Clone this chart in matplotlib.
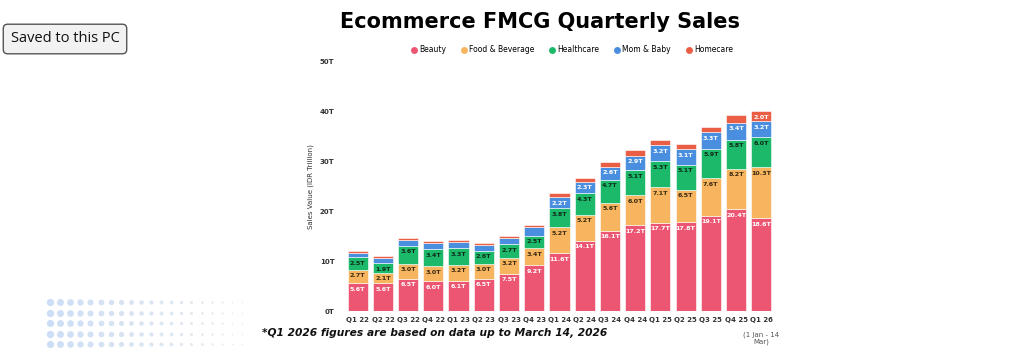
import matplotlib
matplotlib.use('Agg')
import matplotlib.pyplot as plt
from matplotlib.lines import Line2D
import numpy as np

quarters = ['Q1 22', 'Q2 22', 'Q3 22', 'Q4 22', 'Q1 23', 'Q2 23', 'Q3 23', 'Q4 23',
            'Q1 24', 'Q2 24', 'Q3 24', 'Q4 24', 'Q1 25', 'Q2 25', 'Q3 25', 'Q4 25', 'Q1 26']
beauty = [5.6, 5.6, 6.5, 6.0, 6.1, 6.5, 7.5, 9.2, 11.6, 14.1, 16.1, 17.2, 17.7, 17.8, 19.1, 20.4, 18.6]
food = [2.7, 2.1, 3.0, 3.0, 3.2, 3.0, 3.2, 3.4, 5.2, 5.2, 5.6, 6.0, 7.1, 6.5, 7.6, 8.2, 10.3]
health = [2.5, 1.9, 3.6, 3.4, 3.3, 2.6, 2.7, 2.5, 3.8, 4.3, 4.7, 5.1, 5.3, 5.1, 5.9, 5.8, 6.0]
mom = [0.8, 1.0, 1.1, 1.2, 1.2, 1.1, 1.2, 1.7, 2.2, 2.3, 2.6, 2.9, 3.2, 3.1, 3.3, 3.4, 3.2]
home = [0.4, 0.4, 0.4, 0.4, 0.4, 0.4, 0.4, 0.5, 0.9, 0.8, 0.9, 1.1, 1.0, 1.0, 1.0, 1.5, 2.0]

series = [('Beauty', beauty, '#EC5672', 'white'),
          ('Food & Beverage', food, '#F7B560', '#3a2a10'),
          ('Healthcare', health, '#1DB96B', '#0d2a18'),
          ('Mom & Baby', mom, '#4A8FDF', 'white'),
          ('Homecare', home, '#EA5E45', 'white')]

fig = plt.figure(figsize=(10.24, 3.51), dpi=100)

# background decoration (dots bottom-left)
bg = fig.add_axes([0, 0, 1, 1])
bg.set_xlim(0, 1024)
bg.set_ylim(351, 0)
bg.axis('off')
for c in range(20):
    for r in range(5):
        f = c / 19
        col = (0.80 + 0.12 * f, 0.87 + 0.06 * f, 0.96 - 0.02 * f)
        bg.scatter(50 + c * 10.1, 302 + r * 10.5, s=(7 - 5.5 * f) ** 2 * 0.55,
                   color=col, marker='o', linewidths=0)

ax = fig.add_axes([340 / 1024, 1 - 311 / 351, 444 / 1024, 249 / 351])
x = np.arange(len(quarters))
bottom = np.zeros(len(quarters))
for name, vals, color, tcol in series:
    vals = np.array(vals)
    ax.bar(x, vals, 0.8, bottom=bottom, color=color, label=name,
           edgecolor='white', linewidth=0.4)
    for i, v in enumerate(vals):
        if v >= 1.85:
            ax.annotate(f'{v:.1f}T', (x[i], bottom[i] + v), xytext=(0, -2.5),
                        textcoords='offset points', ha='center', va='top',
                        fontsize=4.6, fontweight='bold', color=tcol)
    bottom += vals

ax.set_xlim(-0.7, 16.9)
ax.set_ylim(0, 50)
ax.set_yticks([0, 10, 20, 30, 40, 50])
ax.set_yticklabels([f'{t}T' for t in [0, 10, 20, 30, 40, 50]], fontsize=5,
                   fontweight='bold', color='#333333')
ax.set_xticks(x)
ax.set_xticklabels(quarters, fontsize=5, fontweight='bold', color='#333333')
ax.tick_params(length=0, pad=4)
ax.set_ylabel('Sales Value (IDR Trillion)', fontsize=5, color='#333333', labelpad=4)
for s in ax.spines.values():
    s.set_visible(False)

ax.text(16, -4.2, '(1 Jan - 14\nMar)', ha='center', va='top', fontsize=5, color='#555555',
        linespacing=1.0)

fig.text(540 / 1024, 1 - 22 / 351, 'Ecommerce FMCG Quarterly Sales', ha='center', va='center',
         fontsize=15, fontweight='bold', color='black')

handles = [Line2D([], [], marker='o', ls='none', markersize=5, markerfacecolor=c,
                  markeredgecolor='none') for _, _, c, _ in series]
labels = [n for n, _, _, _ in series]
fig.legend(handles, labels, loc='center', bbox_to_anchor=(572 / 1024, 1 - 50 / 351),
           ncol=5, frameon=False, fontsize=5.5, handlelength=0.8,
           columnspacing=1.9, handletextpad=0.3)

fig.text(262 / 1024, 1 - 333 / 351, '*Q1 2026 figures are based on data up to March 14, 2026',
         ha='left', va='center', fontsize=7.7, fontweight='bold', style='italic', color='#111111')

fig.text(65 / 1024, 1 - 39 / 351, 'Saved to this PC', ha='center', va='center', fontsize=10.5,
         family='Open Sans', color='#111111',
         bbox=dict(boxstyle='round,pad=0.5,rounding_size=0.3', fc='#f2f2f2', ec='#555555', lw=1))

fig.savefig('out.png', dpi=100)
